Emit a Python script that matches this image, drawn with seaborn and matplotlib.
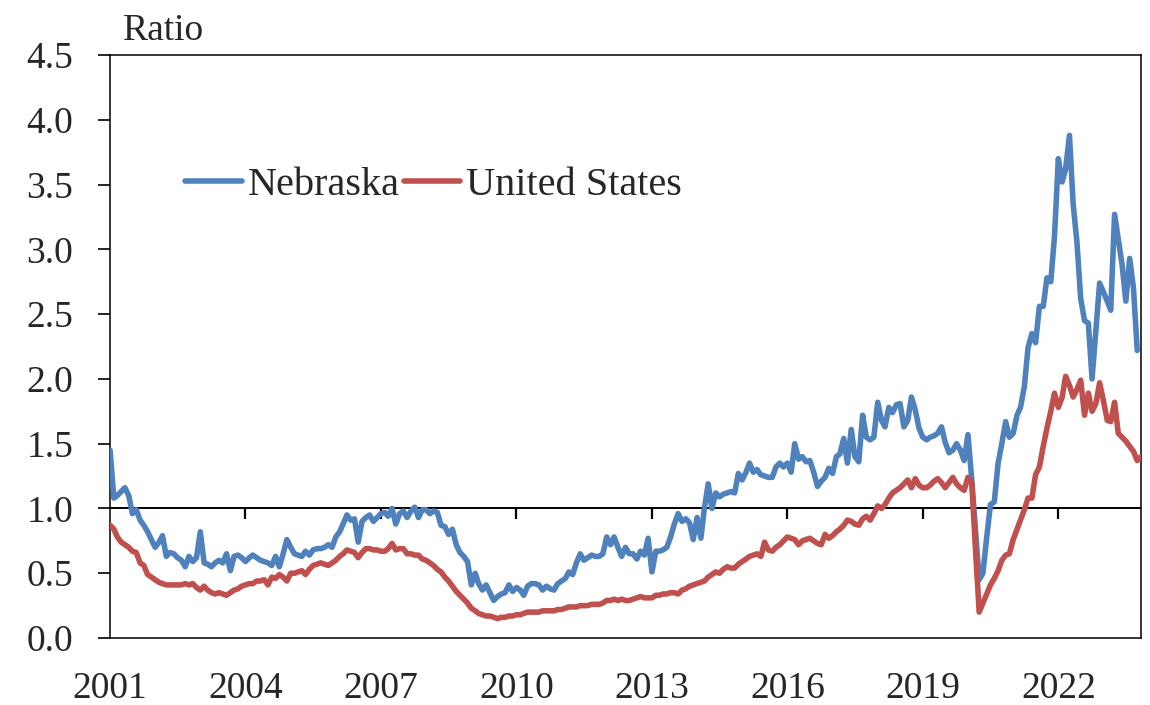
import pandas as pd
import matplotlib
matplotlib.use('Agg')
import matplotlib.pyplot as plt
import seaborn as sns

# ratio of job openings to unemployed, monthly from Jan 2001
nebraska = [
    1.45, 1.08, 1.10, 1.13, 1.16, 1.10, 0.96, 0.99, 0.91, 0.87, 0.82, 0.76,  # 2001
    0.70, 0.74, 0.79, 0.63, 0.66, 0.65, 0.62, 0.60, 0.55, 0.63, 0.59, 0.62,  # 2002
    0.82, 0.58, 0.57, 0.55, 0.58, 0.60, 0.58, 0.65, 0.52, 0.63, 0.64, 0.62,  # 2003
    0.59, 0.62, 0.64, 0.62, 0.60, 0.59, 0.58, 0.56, 0.63, 0.55, 0.65, 0.76,  # 2004
    0.70, 0.65, 0.64, 0.63, 0.67, 0.64, 0.68, 0.69, 0.69, 0.70, 0.72, 0.70,  # 2005
    0.78, 0.82, 0.88, 0.95, 0.91, 0.92, 0.74, 0.90, 0.93, 0.95, 0.90, 0.93,  # 2006
    0.96, 0.97, 0.94, 1.00, 0.88, 0.96, 0.98, 0.93, 0.98, 1.01, 0.93, 0.99,  # 2007
    0.99, 0.96, 0.98, 0.97, 0.87, 0.86, 0.80, 0.84, 0.72, 0.66, 0.63, 0.59,  # 2008
    0.41, 0.50, 0.42, 0.37, 0.41, 0.35, 0.29, 0.32, 0.34, 0.35, 0.41, 0.36,  # 2009
    0.39, 0.37, 0.33, 0.40, 0.42, 0.42, 0.41, 0.37, 0.40, 0.38, 0.37, 0.42,  # 2010
    0.44, 0.46, 0.51, 0.49, 0.58, 0.65, 0.60, 0.62, 0.64, 0.63, 0.63, 0.65,  # 2011
    0.78, 0.72, 0.78, 0.70, 0.63, 0.70, 0.65, 0.65, 0.61, 0.67, 0.64, 0.77,  # 2012
    0.51, 0.67, 0.67, 0.68, 0.70, 0.78, 0.88, 0.96, 0.90, 0.92, 0.89, 0.76,  # 2013
    0.93, 0.77, 1.00, 1.19, 1.00, 1.12, 1.09, 1.11, 1.12, 1.13, 1.12, 1.27,  # 2014
    1.22, 1.28, 1.35, 1.28, 1.30, 1.26, 1.25, 1.24, 1.24, 1.32, 1.35, 1.32,  # 2015
    1.35, 1.28, 1.50, 1.38, 1.40, 1.36, 1.37, 1.28, 1.17, 1.21, 1.24, 1.31,  # 2016
    1.27, 1.40, 1.42, 1.54, 1.35, 1.61, 1.40, 1.36, 1.72, 1.55, 1.53, 1.55,  # 2017
    1.82, 1.68, 1.63, 1.78, 1.74, 1.80, 1.81, 1.63, 1.68, 1.86, 1.76, 1.62,  # 2018
    1.55, 1.53, 1.55, 1.56, 1.58, 1.63, 1.51, 1.43, 1.45, 1.50, 1.45, 1.37,  # 2019
    1.57, 1.22, 0.85, 0.45, 0.50, 0.78, 1.03, 1.05, 1.35, 1.50, 1.67, 1.55,  # 2020
    1.58, 1.72, 1.78, 1.94, 2.24, 2.35, 2.28, 2.56, 2.56, 2.78, 2.75, 3.10,  # 2021
    3.70, 3.52, 3.62, 3.88, 3.35, 3.05, 2.62, 2.45, 2.43, 2.00, 2.38, 2.74,  # 2022
    2.67, 2.60, 2.53, 3.27, 3.08, 2.88, 2.60, 2.93, 2.70, 2.22,              # 2023
]

united_states = [
    0.87, 0.84, 0.78, 0.74, 0.72, 0.70, 0.67, 0.66, 0.58, 0.56, 0.49, 0.47,  # 2001
    0.45, 0.43, 0.42, 0.41, 0.41, 0.41, 0.41, 0.41, 0.42, 0.41, 0.42, 0.39,  # 2002
    0.37, 0.40, 0.37, 0.35, 0.34, 0.35, 0.34, 0.33, 0.35, 0.37, 0.38, 0.40,  # 2003
    0.41, 0.42, 0.42, 0.44, 0.44, 0.45, 0.41, 0.47, 0.46, 0.49, 0.47, 0.44,  # 2004
    0.50, 0.50, 0.51, 0.52, 0.49, 0.53, 0.56, 0.57, 0.58, 0.57, 0.56, 0.58,  # 2005
    0.60, 0.63, 0.65, 0.68, 0.67, 0.66, 0.62, 0.66, 0.69, 0.69, 0.68, 0.68,  # 2006
    0.67, 0.67, 0.69, 0.73, 0.68, 0.69, 0.69, 0.65, 0.65, 0.64, 0.64, 0.61,  # 2007
    0.60, 0.58, 0.56, 0.53, 0.51, 0.47, 0.44, 0.40, 0.36, 0.33, 0.30, 0.27,  # 2008
    0.23, 0.21, 0.19, 0.18, 0.17, 0.17, 0.16, 0.15, 0.16, 0.16, 0.17, 0.17,  # 2009
    0.18, 0.18, 0.19, 0.20, 0.20, 0.20, 0.20, 0.21, 0.21, 0.21, 0.21, 0.22,  # 2010
    0.22, 0.23, 0.24, 0.24, 0.24, 0.25, 0.25, 0.25, 0.26, 0.26, 0.26, 0.27,  # 2011
    0.29, 0.29, 0.30, 0.29, 0.30, 0.29, 0.29, 0.30, 0.31, 0.32, 0.31, 0.31,  # 2012
    0.31, 0.33, 0.33, 0.34, 0.34, 0.35, 0.35, 0.34, 0.37, 0.38, 0.40, 0.41,  # 2013
    0.42, 0.43, 0.44, 0.47, 0.49, 0.51, 0.50, 0.53, 0.55, 0.54, 0.54, 0.57,  # 2014
    0.59, 0.61, 0.63, 0.64, 0.65, 0.63, 0.74, 0.68, 0.67, 0.70, 0.72, 0.75,  # 2015
    0.78, 0.77, 0.76, 0.72, 0.75, 0.76, 0.77, 0.75, 0.73, 0.72, 0.80, 0.77,  # 2016
    0.79, 0.82, 0.84, 0.87, 0.91, 0.90, 0.88, 0.87, 0.92, 0.94, 0.91, 0.96,  # 2017
    1.02, 1.00, 1.03, 1.08, 1.12, 1.14, 1.16, 1.19, 1.22, 1.16, 1.23, 1.18,  # 2018
    1.16, 1.16, 1.18, 1.21, 1.23, 1.20, 1.16, 1.20, 1.24, 1.19, 1.16, 1.14,  # 2019
    1.24, 1.20, 0.70, 0.20, 0.27, 0.34, 0.41, 0.46, 0.52, 0.60, 0.64, 0.65,  # 2020
    0.76, 0.84, 0.91, 0.99, 1.08, 1.08, 1.26, 1.32, 1.48, 1.62, 1.75, 1.89,  # 2021
    1.78, 1.86, 2.02, 1.95, 1.86, 1.92, 1.99, 1.72, 1.89, 1.75, 1.81, 1.97,  # 2022
    1.83, 1.68, 1.67, 1.82, 1.58, 1.55, 1.52, 1.48, 1.44, 1.37, 1.40,        # 2023
]

tick_years = [2001, 2004, 2007, 2010, 2013, 2016, 2019, 2022]
y_ticks = [0.0, 0.5, 1.0, 1.5, 2.0, 2.5, 3.0, 3.5, 4.0, 4.5]
cross_at = 1.0  # value where the horizontal axis crosses

ne_dates = pd.date_range('2001-01-01', periods=len(nebraska), freq='MS')
us_dates = pd.date_range('2001-01-01', periods=len(united_states), freq='MS')
tick_dates = pd.to_datetime([f'{y}-01-01' for y in tick_years])

sns.set_style('white')
plt.rcParams['font.family'] = ['Liberation Serif', 'DejaVu Serif']
plt.rcParams['font.size'] = 27

fig = plt.figure(figsize=(11.5, 7.05), dpi=100)
ax = fig.add_axes([0.0957, 0.095, 0.8965, 0.827])

sns.lineplot(x=ne_dates, y=nebraska, color='#4F81BD', linewidth=4.0,
             label='Nebraska', solid_joinstyle='round', ax=ax, zorder=3)
sns.lineplot(x=us_dates, y=united_states, color='#C0504D', linewidth=4.0,
             label='United States', solid_joinstyle='round', ax=ax, zorder=3)

ax.set_xlim(us_dates[0], us_dates[-1])
ax.set_ylim(0, 4.5)

# horizontal axis line at 1.0 with ticks hanging below it (about 10 px)
ax.axhline(cross_at, color='black', linewidth=1.4, zorder=2)
ax.vlines(tick_dates[1:], cross_at - 0.085, cross_at, color='black',
          linewidth=1.6, zorder=2)

ax.set_yticks(y_ticks)
ax.set_yticklabels([f'{v:.1f}' for v in y_ticks])
ax.set_xticks(tick_dates)
ax.set_xticklabels([str(y) for y in tick_years])
ax.tick_params(axis='x', bottom=False, length=0, pad=24)
ax.tick_params(axis='y', left=True, direction='out', length=8.5, width=1.2,
               color='black', pad=18)
for s in ax.spines.values():
    s.set_visible(True)
    s.set_color('black')
    s.set_linewidth(1.1)

ax.text(0.012, 1.012, 'Ratio', transform=ax.transAxes, ha='left', va='bottom')

ax.legend(loc='center left', bbox_to_anchor=(0.073, 0.777), ncol=2,
          frameon=False, handlelength=1.4, handletextpad=0.15,
          columnspacing=0.1, borderaxespad=0, borderpad=0, fontsize=29)
ax.set_xlabel('')
ax.set_ylabel('')

fig.savefig('out.png', dpi=100)
